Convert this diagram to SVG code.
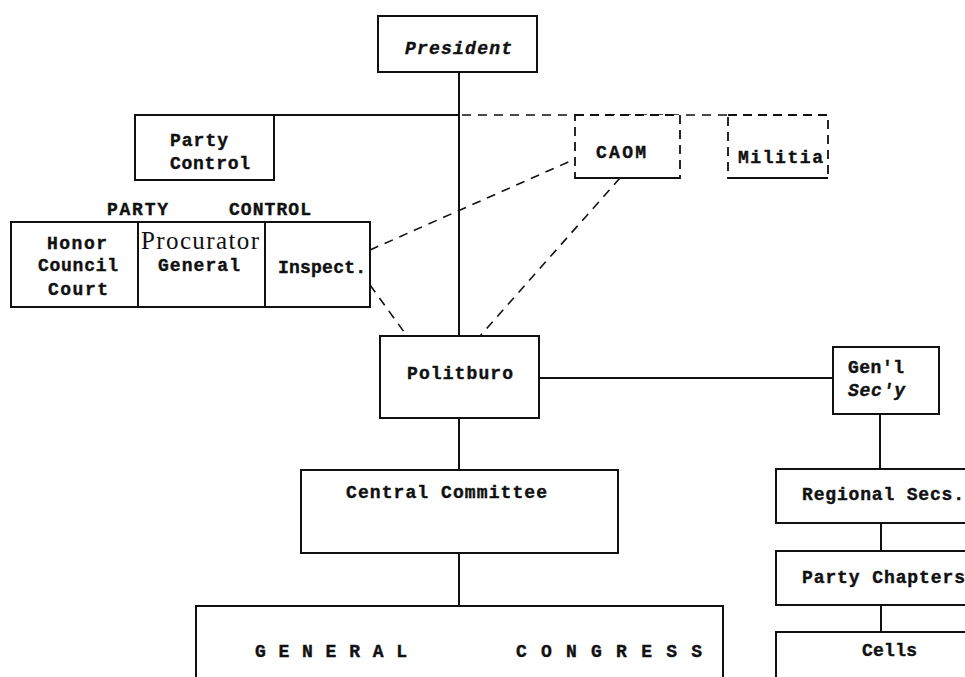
<svg xmlns="http://www.w3.org/2000/svg" width="965" height="677" viewBox="0 0 965 677">
<style>
  .box{fill:#fff;stroke:#111;stroke-width:2}
  .dbox{fill:#fff;stroke:#111;stroke-width:1.8;stroke-dasharray:9 6}
  .ln{stroke:#111;stroke-width:2;fill:none}
  .dl{stroke:#111;stroke-width:1.6;fill:none;stroke-dasharray:9 7}
  .t{font-family:"Liberation Mono","DejaVu Sans Mono",monospace;font-weight:bold;font-size:18px;fill:#111;stroke:#111;stroke-width:0.4}
  .s{font-family:"Liberation Serif","Times New Roman",serif;font-size:25px;fill:#111}
</style>
<rect width="965" height="677" fill="#fff"/>
<g id="connectors">
  <line class="ln" x1="459" y1="72" x2="459" y2="336"/>
  <line class="ln" x1="135" y1="115" x2="459" y2="115"/>
  <line class="dl" x1="462" y1="115" x2="728" y2="115"/>
  <line class="dl" x1="370" y1="250" x2="575" y2="159"/>
  <line class="dl" x1="370" y1="285" x2="407" y2="336"/>
  <line class="dl" x1="620" y1="178" x2="480" y2="336"/>
  <line class="ln" x1="539" y1="378" x2="833" y2="378"/>
  <line class="ln" x1="459" y1="418" x2="459" y2="470"/>
  <line class="ln" x1="459" y1="553" x2="459" y2="606"/>
  <line class="ln" x1="880" y1="414" x2="880" y2="469"/>
  <line class="ln" x1="881" y1="523" x2="881" y2="551"/>
  <line class="ln" x1="881" y1="605" x2="881" y2="632"/>
</g>
<g id="president">
  <rect class="box" x="378" y="16" width="159" height="56"/>
  <text class="t" x="405" y="54" textLength="107" font-style="italic">President</text>
</g>
<g id="party-control">
  <rect class="box" x="135" y="115" width="139" height="65"/>
  <text class="t" x="170" y="146" textLength="58">Party</text>
  <text class="t" x="170" y="169" textLength="80">Control</text>
</g>
<g id="party-control-label">
  <text class="t" x="107" y="215" textLength="61">PARTY</text>
  <text class="t" x="229" y="215" textLength="82">CONTROL</text>
</g>
<g id="honor-council-court">
  <rect class="box" x="11" y="222" width="127" height="85"/>
  <text class="t" x="47" y="249" textLength="60">Honor</text>
  <text class="t" x="38" y="271" textLength="80">Council</text>
  <text class="t" x="48" y="295" textLength="60">Court</text>
</g>
<g id="procurator-general">
  <rect class="box" x="138" y="222" width="127" height="85"/>
  <text class="s" x="141" y="249" textLength="118">Procurator</text>
  <text class="t" x="158" y="271" textLength="82">General</text>
</g>
<g id="inspect">
  <rect class="box" x="265" y="222" width="105" height="85"/>
  <text class="t" x="278" y="273" textLength="88">Inspect.</text>
</g>
<g id="caom">
  <rect class="dbox" x="575" y="115" width="105" height="63"/>
  <line class="ln" x1="575" y1="178" x2="680" y2="178"/>
  <text class="t" x="596" y="158" textLength="50">CAOM</text>
</g>
<g id="militia">
  <rect class="dbox" x="728" y="115" width="100" height="63"/>
  <line class="ln" x1="728" y1="178" x2="828" y2="178"/>
  <text class="t" x="738" y="163" textLength="85">Militia</text>
</g>
<g id="politburo">
  <rect class="box" x="380" y="336" width="159" height="82"/>
  <text class="t" x="407" y="379" textLength="106">Politburo</text>
</g>
<g id="gensec">
  <rect class="box" x="833" y="347" width="106" height="67"/>
  <text class="t" x="848" y="373" textLength="56">Gen'l</text>
  <text class="t" x="848" y="396" textLength="57" font-style="italic">Sec'y</text>
</g>
<g id="central-committee">
  <rect class="box" x="301" y="470" width="317" height="83"/>
  <text class="t" x="346" y="498" textLength="201">Central Committee</text>
</g>
<g id="general-congress">
  <rect class="box" x="196" y="606" width="527" height="90"/>
  <text class="t" x="255" y="657" textLength="152">GENERAL</text>
  <text class="t" x="516" y="657" textLength="186">CONGRESS</text>
</g>
<g id="regional-secs">
  <rect class="box" x="776" y="469" width="200" height="54"/>
  <text class="t" x="802" y="500" textLength="162">Regional Secs.</text>
</g>
<g id="party-chapters">
  <rect class="box" x="776" y="551" width="200" height="54"/>
  <text class="t" x="802" y="583" textLength="163">Party Chapters</text>
</g>
<g id="cells">
  <rect class="box" x="776" y="632" width="200" height="60"/>
  <text class="t" x="862" y="656" textLength="55">Cells</text>
</g>
</svg>
